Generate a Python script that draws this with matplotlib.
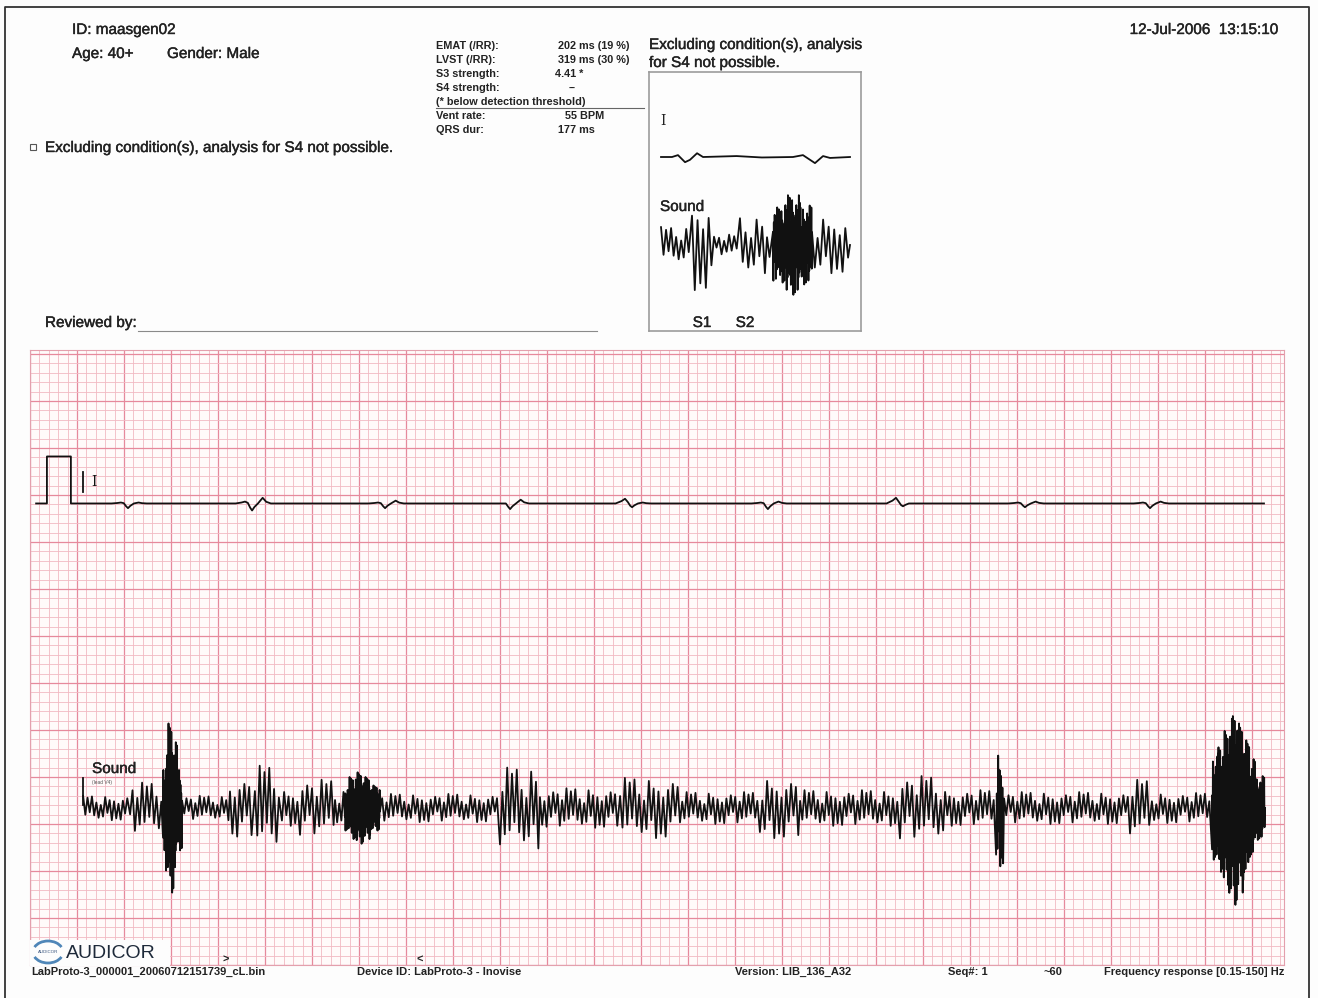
import matplotlib
matplotlib.use('Agg')
import matplotlib.pyplot as plt
import matplotlib.patheffects as pe
import numpy as np
from matplotlib.ticker import MultipleLocator
from matplotlib.patches import Rectangle, Arc

W, H = 1318, 998
plt.rcParams['font.family'] = ['Liberation Sans', 'DejaVu Sans']

# ---- lead I strip (time in s at 25 mm/s, amplitude in mV at 10 mm/mV) ----
ecg_base = 4.91
cal_t = [0.026, 0.072, 0.072, 0.174, 0.174]
cal_v = [0.0, 0.0, 0.5, 0.5, 0.0]
beat_t = [0.417, 0.945, 1.511, 2.043, 2.562, 3.140, 3.715, 4.234, 4.766]
beat_pre = [0.01, 0.02, 0.01, 0.00, 0.05, 0.01, 0.06, 0.01, 0.01]
beat_dip = [-0.05, -0.075, -0.05, -0.06, -0.04, -0.06, -0.03, -0.04, -0.05]
beat_post = [0.01, 0.06, 0.03, 0.04, 0.01, 0.02, 0.00, 0.02, 0.02]
beat_dt = [-0.07, -0.045, -0.03, -0.018, -0.008, 0.0, 0.01, 0.025, 0.045, 0.06, 0.08]
ecg_end = 5.251

# ---- sound strip: segment start, envelope, zigzag step ----
snd_base = 1.67
snd_start = [0.226, 0.426, 0.566, 0.579, 0.587, 0.612, 0.626, 0.647, 0.851,
             0.957, 1.072, 1.149, 1.298, 1.340, 1.360, 1.385, 1.420, 1.450,
             1.489, 2.000, 2.170, 2.511, 2.766, 3.106, 3.277, 3.702, 3.894,
             4.111, 4.145, 4.681, 4.774, 5.030, 5.055, 5.080, 5.100, 5.115,
             5.140, 5.165, 5.190, 5.215]
snd_amp = [0.13, 0.27, 0.45, 0.70, 0.90, 0.70, 0.45, 0.13, 0.32,
           0.45, 0.19, 0.30, 0.19, 0.24, 0.33, 0.38, 0.33, 0.24,
           0.15, 0.43, 0.21, 0.32, 0.17, 0.32, 0.19, 0.34, 0.19,
           0.62, 0.17, 0.30, 0.16, 0.55, 0.68, 0.82, 0.95, 1.03,
           0.90, 0.72, 0.52, 0.34]
snd_step = [0.0094, 0.0102, 0.0016, 0.0012, 0.0012, 0.0012, 0.0016, 0.0094, 0.0102,
            0.0102, 0.0094, 0.0102, 0.0090, 0.0013, 0.0013, 0.0013, 0.0013, 0.0013,
            0.0094, 0.0102, 0.0094, 0.0102, 0.0094, 0.0102, 0.0094, 0.0102, 0.0094,
            0.0030, 0.0094, 0.0102, 0.0094, 0.0012, 0.0012, 0.0012, 0.0012, 0.0012,
            0.0012, 0.0012, 0.0012, 0.0016]
snd_end = 5.255

# ---- averaged beat panel ----
ins_ecg_base = 1.851
ins_ecg_t = [0, 0.131, 0.202, 0.286, 0.345, 0.429, 0.5, 0.9, 1.2, 1.571, 1.690, 1.833, 1.929, 2.012, 2.25]
ins_ecg_v = [0, 0, 0.02, -0.055, -0.03, 0.04, 0, 0.01, -0.005, 0, 0.02, -0.065, 0.01, -0.01, 0]
ins_snd_base = 0.915
ins_snd_start = [0.0, 0.369, 0.631, 0.940, 1.262, 1.333, 1.476, 1.655, 1.798]
ins_snd_amp = [0.19, 0.48, 0.11, 0.30, 0.15, 0.40, 0.53, 0.42, 0.30]
ins_snd_step = [0.030, 0.033, 0.030, 0.033, 0.030, 0.005, 0.005, 0.005, 0.033]
ins_snd_end = 2.25

measures = [('EMAT (/RR):', '202 ms (19 %)', 558),
            ('LVST (/RR):', '319 ms (30 %)', 558),
            ('S3 strength:', '4.41 *', 555),
            ('S4 strength:', '--', 569),
            ('(* below detection threshold)', '', 0),
            ('Vent rate:', '55 BPM', 565),
            ('QRS dur:', '177 ms', 558)]

ripple = [1.0, 0.55, 0.85, 0.35, 0.95, 0.6, 0.45, 0.8, 0.25, 0.7, 0.9, 0.4, 0.65]


def zigzag(starts, amps, steps, end):
    xs, ys = [], []
    k = 0
    for s, e, a, st in zip(starts, starts[1:] + [end], amps, steps):
        n = max(int(round((e - s) / st)), 1)
        for i in range(n):
            xs.append(s + i * st)
            ys.append((-1) ** k * a * ripple[k % len(ripple)])
            k += 1
    xs.append(end)
    ys.append(0.0)
    return np.array(xs), np.array(ys)


fig = plt.figure(figsize=(W / 100, H / 100), dpi=100)
fig.patch.set_facecolor('#fdfdfd')

# ECG paper
ax = fig.add_axes([30 / W, 1 - 965 / H, 1254 / W, 615 / H])
ax.set_xlim(0, 1254 / 235)
ax.set_ylim(0, 615 / 94)
ax.set_facecolor('#fffafa')
ax.xaxis.set_major_locator(MultipleLocator(0.2))
ax.xaxis.set_minor_locator(MultipleLocator(0.04))
ax.yaxis.set_major_locator(MultipleLocator(0.5))
ax.yaxis.set_minor_locator(MultipleLocator(0.1))
ax.grid(which='minor', color='#f1b9c3', lw=0.6)
ax.grid(which='major', color='#e6899c', lw=0.9)
ax.tick_params(which='both', length=0, labelbottom=False, labelleft=False)
for sp in ax.spines.values():
    sp.set_color('#e3a0ad')
ax.set_axisbelow(True)

ecg_x = list(cal_t)
ecg_y = list(cal_v)
for t0, p, d, q in zip(beat_t, beat_pre, beat_dip, beat_post):
    shape = [0, 0.5 * p, p, 0.3 * p, 0.6 * d, d, 0.5 * d, 0, q, 0.3 * q, 0]
    for dt, v in zip(beat_dt, shape):
        ecg_x.append(t0 + dt)
        ecg_y.append(v)
ecg_x.append(ecg_end)
ecg_y.append(0.0)
ax.plot(ecg_x, ecg_base + np.array(ecg_y), color='#111111', lw=1.3)
ax.plot([0.2255, 0.2255], [5.03, 5.245], color='#111111', lw=1.3)
ax.text(0.262, 5.14, 'I', family='DejaVu Serif', fontsize=10, va='center', color='#111111')

sx, sy = zigzag(snd_start, snd_amp, snd_step, snd_end)
ax.plot(sx, snd_base + sy, color='#111111', lw=1.3)
ax.plot([0.2255, 0.2255], [1.70, 1.99], color='#111111', lw=1.3)
ax.text(0.264, 2.085, 'Sound', fontsize=11, va='center', color='#222222',
        path_effects=[pe.withStroke(linewidth=0.3, foreground='#222222')])
ax.text(0.264, 1.94, '(lead V4)', fontsize=3.5, va='center', color='#555555')

# averaged beat panel
ins = fig.add_axes([649 / W, 1 - 331 / H, 212 / W, 259 / H])
ins.set_xlim(-0.143, 2.381)
ins.set_ylim(0, 259 / 94)
ins.set_facecolor('none')
ins.set_xticks([])
ins.set_yticks([])
for sp in ins.spines.values():
    sp.set_color('#9c9c9c')
    sp.set_linewidth(1.2)
ins.plot(ins_ecg_t, ins_ecg_base + np.array(ins_ecg_v), color='#111111', lw=1.3)
ix, iy = zigzag(ins_snd_start, ins_snd_amp, ins_snd_step, ins_snd_end)
ins.plot(ix, ins_snd_base + iy, color='#111111', lw=1.3)

# page layer: header, footer, frame
pg = fig.add_axes([0, 0, 1, 1], facecolor='none')
pg.set_xlim(0, W)
pg.set_ylim(H, 0)
pg.axis('off')

pg.plot([5, 5, 1309, 1309], [998, 7, 7, 998], color='#333333', lw=1.3)

heavy = [pe.withStroke(linewidth=0.3, foreground='#222222')]
txt = dict(color='#222222', va='center', fontsize=11, path_effects=heavy)
pg.text(72, 30, 'ID: maasgen02', **txt)
pg.text(72, 54, 'Age: 40+', **txt)
pg.text(167, 54, 'Gender: Male', **txt)
pg.text(1278, 30, '12-Jul-2006  13:15:10', ha='right', **txt)
pg.add_patch(Rectangle((30, 144), 6, 6, fill=False, ec='#555555', lw=0.8))
pg.text(45, 148, 'Excluding condition(s), analysis for S4 not possible.', **txt)
pg.text(45, 323, 'Reviewed by:', **txt)
pg.plot([138, 597], [331, 331], color='#8a8a8a', lw=0.8)

small = dict(color='#222222', va='center', fontsize=7.8, fontweight='bold')
for i, (name, val, vx) in enumerate(measures):
    y = 46 + 14 * i
    pg.text(436, y, name, **small)
    if val:
        pg.text(vx, y, val, **small)
pg.plot([436, 644], [108, 108], color='#666666', lw=0.8)

pg.text(649, 45, 'Excluding condition(s), analysis', **txt)
pg.text(649, 63, 'for S4 not possible.', **txt)
pg.text(660, 121, 'I', family='DejaVu Serif', fontsize=10, color='#222222', va='center')
pg.text(660, 207, 'Sound', **txt)
pg.text(702, 323, 'S1', ha='center', **txt)
pg.text(745, 323, 'S2', ha='center', **txt)

# logo block over the paper
pg.add_patch(Rectangle((30, 940), 140, 26, fc='#fdfdfd', ec='none'))
pg.add_patch(Arc((48, 952), 30, 22, theta1=200, theta2=340, color='#4f86b8', lw=2))
pg.add_patch(Arc((48, 952), 30, 22, theta1=20, theta2=160, color='#4f86b8', lw=2))
pg.text(48, 952, 'AUDICOR', fontsize=3.2, ha='center', va='center', color='#33507a')
pg.text(66, 954, 'AUDICOR', fontsize=14, family=['Liberation Sans Narrow', 'Liberation Sans'],
        color='#1e2a3a', va='center')
pg.text(226, 960, '>', ha='center', **small)
pg.text(420, 960, '<', ha='center', **small)

foot = dict(fontsize=8.0, fontweight='bold', color='#222222', va='center')
pg.text(31, 972, 'LabProto-3_000001_20060712151739_cL.bin', **foot)
pg.text(357, 972, 'Device ID: LabProto-3 - Inovise', **foot)
pg.text(735, 972, 'Version: LIB_136_A32', **foot)
pg.text(948, 972, 'Seq#: 1', **foot)
pg.text(1043, 972, '~60', **foot)
pg.text(1284, 972, 'Frequency response [0.15-150] Hz', ha='right', **foot)

fig.savefig('out.png', dpi=100, facecolor=fig.get_facecolor())
